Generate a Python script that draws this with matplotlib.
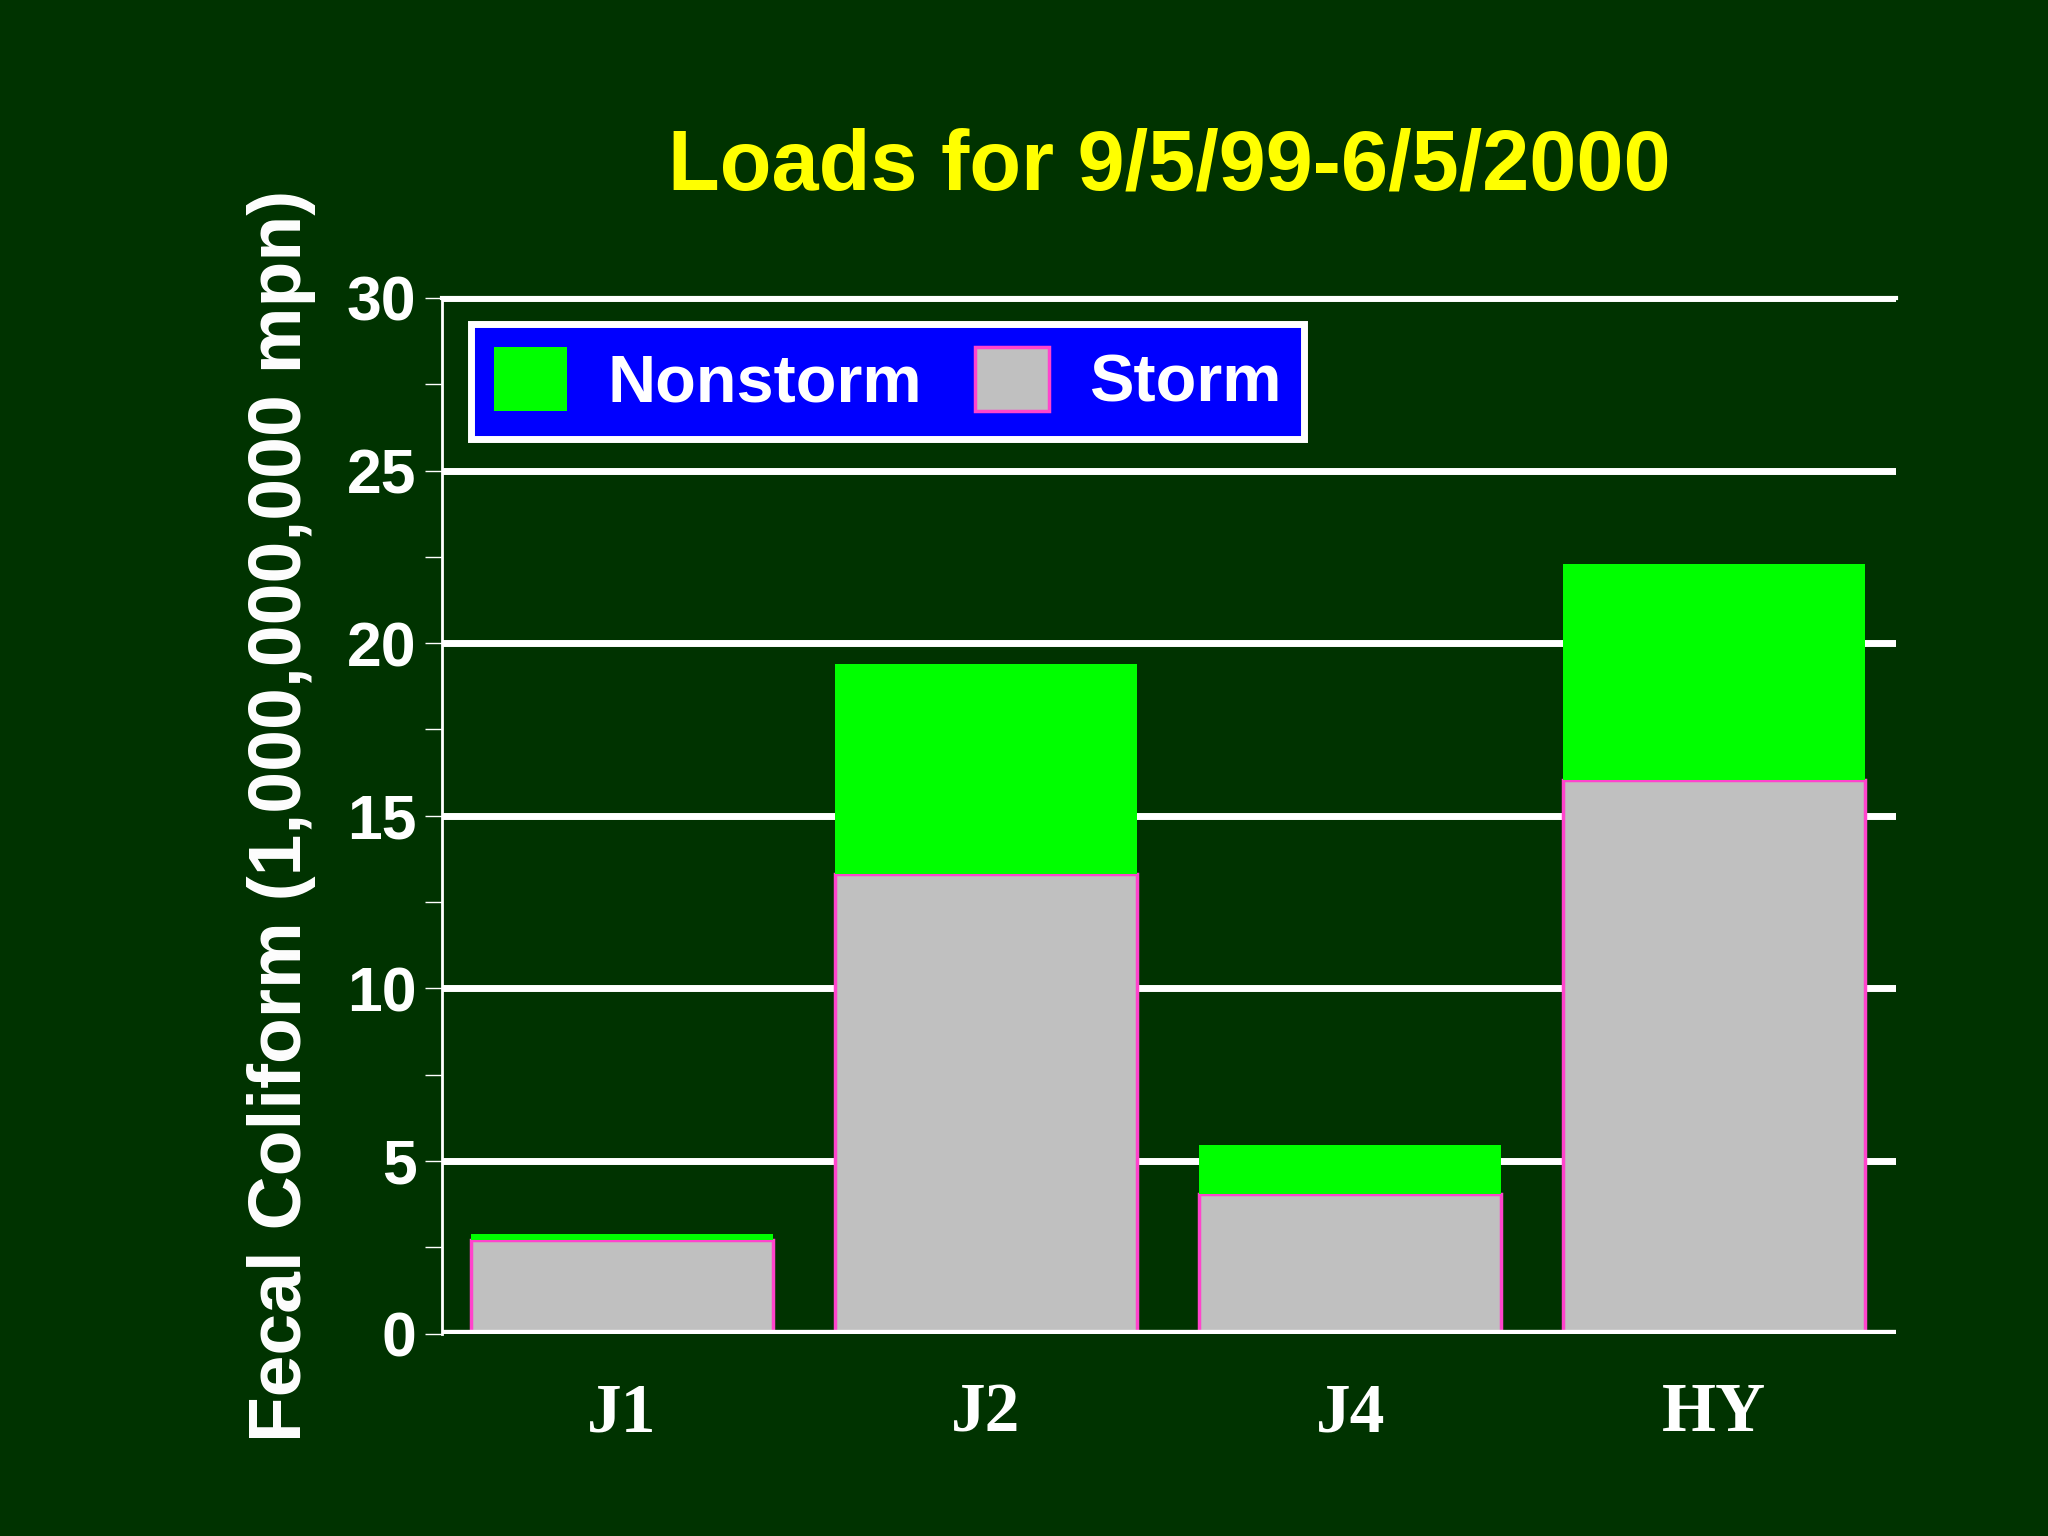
import numpy as np
import matplotlib.pyplot as plt

sites = ["J1", "J2", "J4", "HY"]
storm = [2.72, 13.3, 4.05, 16.05]
nonstorm = [0.15, 6.1, 1.4, 6.25]
yticks = [0, 5, 10, 15, 20, 25, 30]

bg = "#003300"
fig = plt.figure(figsize=(20.48, 15.36), dpi=100, facecolor=bg)
ax = fig.add_axes([0.2156, 0.1318, 0.7104, 0.6742], facecolor=bg)

x = np.arange(len(sites))
ax.bar(x, storm, width=0.83, color="#c0c0c0", edgecolor="#ff44cc", linewidth=2.5, label="Storm", zorder=3)
ax.bar(x, nonstorm, width=0.83, bottom=storm, color="#00ff00", edgecolor="none", label="Nonstorm", zorder=3)

ax.set_xlim(-0.495, 3.5)
ax.set_ylim(0, 30)
ax.set_yticks(yticks)
ax.set_yticks(np.arange(2.5, 30, 5), minor=True)
ax.grid(axis="y", color="white", linewidth=5, zorder=1)
for s in ["right", "bottom"]:
    ax.spines[s].set_visible(False)
ax.spines["left"].set_color("white")
ax.spines["left"].set_linewidth(2)
ax.spines["top"].set_color("white")
ax.spines["top"].set_linewidth(3)
ax.axhline(0, color="white", linewidth=6, zorder=4)
ax.tick_params(axis="y", colors="white", labelsize=45, length=12, width=1, pad=6)
ax.tick_params(axis="y", which="minor", colors="white", length=12, width=1)
for lab in ax.get_yticklabels():
    lab.set_fontweight("bold")
    lab.set_family("Liberation Sans")
ax.set_xticks(x)
ax.set_xticklabels(sites, family="Liberation Serif", fontweight="bold", fontsize=50, color="white")
ax.tick_params(axis="x", length=0, pad=35)

ax.set_ylabel("Fecal Coliform (1,000,000,000 mpn)", fontsize=54, fontweight="bold",
              color="white", family="Liberation Sans", labelpad=22)
fig.text(0.571, 0.891, "Loads for 9/5/99-6/5/2000", ha="center", va="center",
         fontsize=61, fontweight="bold", color="#ffff00", family="Liberation Sans")

h, l = ax.get_legend_handles_labels()
leg = ax.legend(h[::-1], l[::-1], loc="upper left", bbox_to_anchor=(0.02, 0.975), ncol=2,
                frameon=True, fancybox=False, facecolor="#0000ff", edgecolor="white",
                framealpha=1, prop={"family": "Liberation Sans", "weight": "bold", "size": 48},
                handlelength=1.1, handleheight=1.1, handletextpad=0.6, columnspacing=0.8,
                borderpad=0.35, borderaxespad=0)
leg.get_frame().set_linewidth(5)
for t in leg.get_texts():
    t.set_color("white")
leg.set_zorder(5)

fig.savefig("out.png", dpi=100, facecolor=bg)
